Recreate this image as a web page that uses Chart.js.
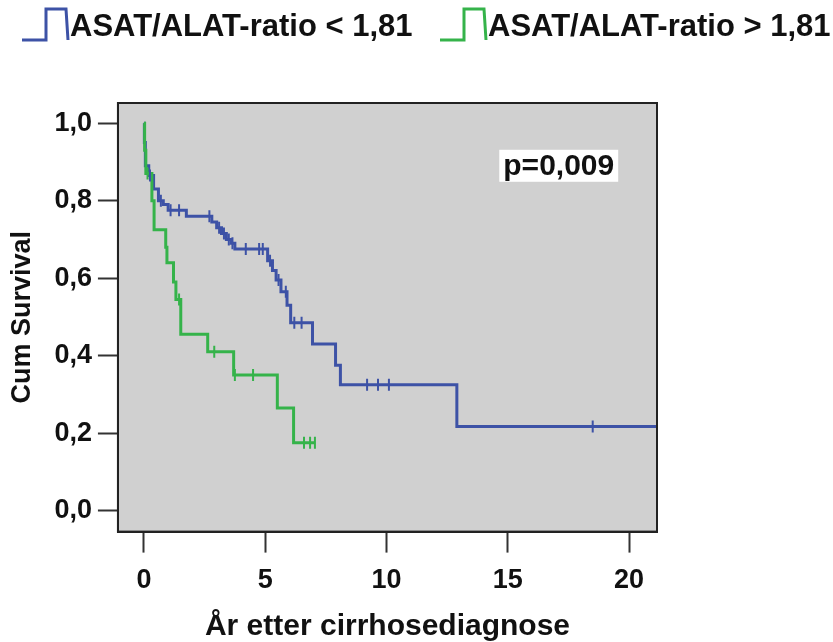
<!DOCTYPE html>
<html>
<head>
<meta charset="utf-8">
<script src="https://cdn.jsdelivr.net/npm/chart.js@4/dist/chart.umd.min.js"></script>
<style>
  html, body { margin: 0; padding: 0; background: #fff; }
  #wrap { width: 833px; height: 642px; }
</style>
</head>
<body>
<div id="wrap"><canvas id="kmChart" width="833" height="642"></canvas></div>
<script>
// group 1: ASAT/ALAT-ratio < 1,81
const blueTime = [0.02, 0.06, 0.2, 0.4, 0.6, 0.8, 1.0, 1.75, 2.8, 3.0, 3.2, 3.4, 3.6, 3.75, 5.1, 5.3, 5.45, 5.65, 5.9, 6.05, 6.95, 7.9, 8.1, 12.9];
const blueSurv = [0.95, 0.89, 0.865, 0.83, 0.80, 0.79, 0.775, 0.76, 0.745, 0.73, 0.715, 0.70, 0.69, 0.675, 0.645, 0.62, 0.595, 0.565, 0.53, 0.485, 0.43, 0.375, 0.325, 0.217];
const blueEnd = 21.5;
const blueCensor = [0.25, 0.7, 1.1, 1.45, 2.7, 3.1, 3.3, 3.5, 3.65, 4.2, 4.75, 4.9, 5.2, 5.55, 5.85, 6.2, 6.5, 9.2, 9.65, 10.1, 18.5];

// group 2: ASAT/ALAT-ratio > 1,81
const greenTime = [0.03, 0.08, 0.33, 0.42, 0.9, 0.95, 1.22, 1.32, 1.52, 2.63, 3.7, 5.5, 6.17];
const greenSurv = [0.93, 0.87, 0.80, 0.725, 0.68, 0.64, 0.59, 0.545, 0.455, 0.41, 0.35, 0.265, 0.175];
const greenEnd = 7.05;
const greenCensor = [0.15, 1.45, 2.9, 3.75, 4.5, 6.6, 6.85, 7.05];

const xTicks = [0, 5, 10, 15, 20];
const yTicks = [0, 0.2, 0.4, 0.6, 0.8, 1.0];
const labels = ["ASAT/ALAT-ratio < 1,81", "ASAT/ALAT-ratio > 1,81"];
const pText = "p=0,009";

const BLUE = "#3d52a6";
const GREEN = "#35b34a";
const FONT = "'Liberation Sans', Arial, sans-serif";

function stepPoints(times, surv, end) {
  const pts = [{ x: 0, y: 1 }];
  times.forEach((t, i) => pts.push({ x: t, y: surv[i] }));
  pts.push({ x: end, y: surv[surv.length - 1] });
  return pts;
}

function survAt(times, surv, t) {
  let s = 1;
  times.forEach((tt, i) => { if (tt <= t) s = surv[i]; });
  return s;
}

function censorPoints(censor, times, surv) {
  return censor.map(t => ({ x: t, y: survAt(times, surv, t) }));
}

const plotBox = {
  id: "plotBox",
  beforeDraw(chart) {
    const { ctx, chartArea: a } = chart;
    ctx.save();
    ctx.fillStyle = "#d0d0d0";
    ctx.fillRect(a.left, a.top, a.right - a.left, a.bottom - a.top);
    ctx.restore();
  },
  afterDatasetsDraw(chart) {
    const { ctx, chartArea: a, scales } = chart;
    ctx.save();
    ctx.strokeStyle = "#222";
    ctx.lineWidth = 2;
    ctx.strokeRect(a.left, a.top, a.right - a.left, a.bottom - a.top);
    // p-value box
    ctx.font = "bold 30px " + FONT;
    const w = ctx.measureText(pText).width;
    const cx = scales.x.getPixelForValue(17.1);
    const cy = scales.y.getPixelForValue(0.89);
    ctx.fillStyle = "#fff";
    ctx.fillRect(cx - w / 2 - 4, cy - 16, w + 8, 32);
    ctx.fillStyle = "#111";
    ctx.textAlign = "center";
    ctx.textBaseline = "middle";
    ctx.fillText(pText, cx, cy + 1);
    ctx.restore();
  }
};

const stepLegend = {
  id: "stepLegend",
  afterDraw(chart) {
    const { ctx } = chart;
    const items = [
      { x: 22, color: BLUE, text: labels[0] },
      { x: 440, color: GREEN, text: labels[1] }
    ];
    ctx.save();
    ctx.font = "bold 31px " + FONT;
    ctx.textBaseline = "middle";
    items.forEach(it => {
      ctx.strokeStyle = it.color;
      ctx.lineWidth = 3;
      ctx.beginPath();
      ctx.moveTo(it.x, 40);
      ctx.lineTo(it.x + 24, 40);
      ctx.lineTo(it.x + 24, 9);
      ctx.lineTo(it.x + 44, 9);
      ctx.lineTo(it.x + 46, 40);
      ctx.stroke();
      ctx.fillStyle = "#111";
      ctx.fillText(it.text, it.x + 48, 27);
    });
    ctx.restore();
  }
};

const ctx = document.getElementById("kmChart").getContext("2d");
new Chart(ctx, {
  type: "line",
  data: {
    datasets: [
      {
        label: labels[0],
        data: stepPoints(blueTime, blueSurv, blueEnd),
        borderColor: BLUE,
        borderWidth: 3,
        stepped: true,
        pointRadius: 0,
        fill: false,
        order: 2
      },
      {
        label: labels[1],
        data: stepPoints(greenTime, greenSurv, greenEnd),
        borderColor: GREEN,
        borderWidth: 3,
        stepped: true,
        pointRadius: 0,
        fill: false,
        order: 1
      },
      {
        label: "censor1",
        data: censorPoints(blueCensor, blueTime, blueSurv),
        showLine: false,
        pointStyle: "line",
        rotation: 90,
        pointRadius: 6,
        pointBorderWidth: 2,
        pointBorderColor: BLUE,
        borderColor: BLUE,
        order: 0
      },
      {
        label: "censor2",
        data: censorPoints(greenCensor, greenTime, greenSurv),
        showLine: false,
        pointStyle: "line",
        rotation: 90,
        pointRadius: 6,
        pointBorderWidth: 2,
        pointBorderColor: GREEN,
        borderColor: GREEN,
        order: 0
      }
    ]
  },
  options: {
    responsive: false,
    animation: false,
    events: [],
    layout: { padding: { top: 103, left: 6, right: 176, bottom: 0 } },
    plugins: {
      legend: { display: false },
      tooltip: { enabled: false }
    },
    scales: {
      x: {
        type: "linear",
        min: -1.07,
        max: 21.15,
        afterBuildTicks: (s) => { s.ticks = xTicks.map(v => ({ value: v })); },
        grid: { drawOnChartArea: false, drawTicks: true, tickLength: 21, tickWidth: 2, tickColor: "#333" },
        border: { display: true, color: "#222", width: 2 },
        ticks: { font: { family: FONT, size: 27, weight: "bold" }, color: "#111", padding: 12, maxRotation: 0 },
        title: { display: true, text: "År etter cirrhosediagnose", font: { family: FONT, size: 30, weight: "bold", lineHeight: 1 }, color: "#111", padding: { top: 3, bottom: 0 } }
      },
      y: {
        type: "linear",
        min: -0.054,
        max: 1.052,
        afterBuildTicks: (s) => { s.ticks = yTicks.map(v => ({ value: v })); },
        grid: { drawOnChartArea: false, drawTicks: true, tickLength: 20, tickWidth: 2, tickColor: "#333" },
        border: { display: true, color: "#222", width: 2 },
        ticks: { font: { family: FONT, size: 27, weight: "bold" }, color: "#111", padding: 6, callback: v => v.toFixed(1).replace(".", ",") },
        title: { display: true, text: "Cum Survival", font: { family: FONT, size: 27, weight: "bold" }, color: "#111", padding: { top: 0, bottom: 10 } }
      }
    }
  },
  plugins: [plotBox, stepLegend]
});
</script>
</body>
</html>
